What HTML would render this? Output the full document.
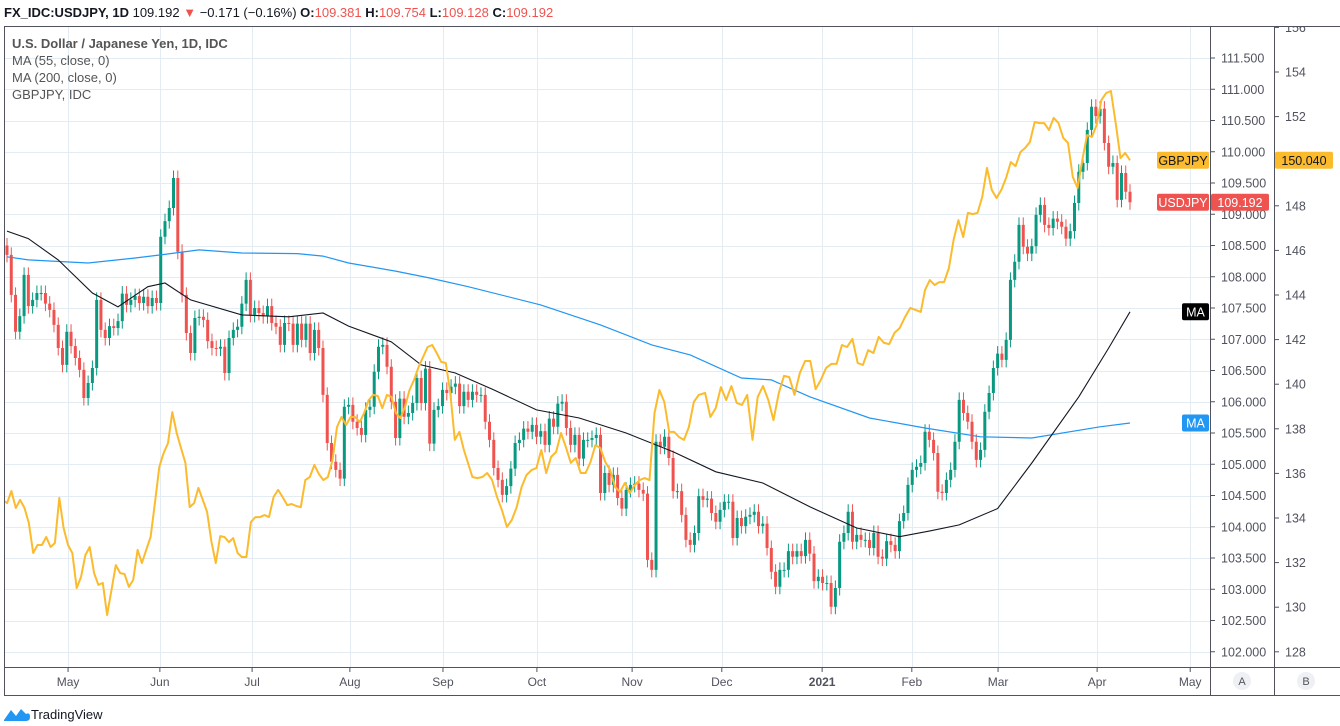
<!DOCTYPE html>
<html><head><meta charset="utf-8"><title>USDJPY chart</title>
<style>
html,body{margin:0;padding:0;background:#fff;width:1340px;height:726px;overflow:hidden}
svg{display:block}
text{font-family:"Liberation Sans",sans-serif}
</style></head>
<body>
<svg id="chart" width="1340" height="726" viewBox="0 0 1340 726" xmlns="http://www.w3.org/2000/svg">
  <text x="4" y="17" font-size="13" fill="#131722"><tspan font-weight="bold">FX_IDC:USDJPY, 1D</tspan> 109.192 <tspan fill="#ef5350">▼</tspan> −0.171 (−0.16%) <tspan font-weight="bold">O:</tspan><tspan fill="#ef5350">109.381</tspan> <tspan font-weight="bold">H:</tspan><tspan fill="#ef5350">109.754</tspan> <tspan font-weight="bold">L:</tspan><tspan fill="#ef5350">109.128</tspan> <tspan font-weight="bold">C:</tspan><tspan fill="#ef5350">109.192</tspan></text>
  <g id="grid"></g>
  <g id="marks"></g>
  <rect x="4.5" y="26.5" width="1340" height="669" fill="none" stroke="#50535e" stroke-width="1"/>
  <line x1="1210.5" y1="26" x2="1210.5" y2="696" stroke="#50535e"/>
  <line x1="1274.5" y1="26" x2="1274.5" y2="696" stroke="#50535e"/>
  <line x1="4" y1="667.5" x2="1340" y2="667.5" stroke="#50535e"/>
  <g id="axes"></g>
  <g font-size="13" fill="#555">
    <text x="12" y="48" font-weight="bold" fill="#555">U.S. Dollar / Japanese Yen, 1D, IDC</text>
    <text x="12" y="65">MA (55, close, 0)</text>
    <text x="12" y="82">MA (200, close, 0)</text>
    <text x="12" y="99">GBPJPY, IDC</text>
  </g>
  <g>
    <circle cx="1242" cy="681" r="9" fill="#eef0f5"/>
    <text x="1242" y="685" font-size="11" text-anchor="middle" fill="#555">A</text>
    <circle cx="1306" cy="681" r="9" fill="#eef0f5"/>
    <text x="1306" y="685" font-size="11" text-anchor="middle" fill="#555">B</text>
  </g>
  <g>
    <path d="M4 720 L11 710 L16 716 L21 709 L26 714 Q30 712 30 717 Q30 721 26 721 L4 721 Z" fill="#2196f3"/>
    <text x="31" y="719" font-size="13" fill="#131722">TradingView</text>
  </g>
</svg>
<script>
// ---- data ----
const closes = [108.35,107.71,107.12,107.37,108.03,107.53,107.63,107.74,107.74,107.57,107.47,107.23,106.86,106.59,107.12,106.89,106.70,106.51,106.06,106.30,106.54,107.63,107.15,107.02,107.21,107.18,107.29,107.73,107.55,107.63,107.69,107.58,107.68,107.53,107.66,107.58,108.64,108.89,109.10,109.58,108.40,107.71,107.10,106.78,107.34,107.36,107.31,106.97,106.86,106.85,106.88,106.46,107.02,107.15,
107.20,107.57,107.95,107.39,107.50,107.42,107.37,107.53,107.26,107.20,106.91,107.26,107.25,106.91,107.25,106.99,107.25,106.78,107.15,106.86,106.11,105.34,105.04,104.91,104.77,105.92,105.95,105.68,105.58,105.47,105.87,105.92,106.48,106.88,106.91,106.56,106.00,105.42,106.05,105.76,105.82,105.98,106.38,105.98,106.53,105.33,105.87,105.93,106.19,106.14,106.24,106.29,105.93,106.16,
106.03,106.16,106.11,106.11,105.68,105.39,104.94,104.75,104.51,104.65,104.93,105.34,105.39,105.57,105.52,105.63,105.44,105.53,105.31,105.73,105.60,105.97,106.00,105.58,105.31,105.47,105.09,105.39,105.39,105.42,105.47,104.54,104.86,104.67,104.83,104.46,104.29,104.59,104.67,104.69,104.59,104.53,103.47,103.31,105.36,105.28,105.44,105.10,104.57,104.57,104.19,103.79,103.71,103.90,104.49,104.43,
104.45,104.22,104.08,104.27,104.40,104.40,103.82,104.14,104.01,104.16,104.19,104.24,104.01,104.05,103.66,103.28,103.04,103.31,103.31,103.61,103.52,103.61,103.53,103.79,103.57,103.13,103.20,103.10,103.10,102.72,103.02,103.76,103.90,104.24,103.76,103.87,103.79,103.79,103.66,103.90,103.52,103.49,103.77,103.71,103.61,104.09,104.22,
104.67,104.91,104.96,105.02,105.52,105.39,105.18,104.56,104.54,104.75,104.91,105.36,106.03,105.82,105.68,105.36,105.07,105.23,105.84,106.14,106.54,106.77,106.67,106.99,107.95,108.24,108.83,108.48,108.37,108.49,108.99,109.15,108.83,108.78,108.93,108.88,108.80,108.61,108.73,109.18,109.68,109.82,110.35,110.72,110.57,110.69,110.14,109.76,109.82,109.23,109.66,109.36,109.192];
const firstOpen = 108.5;
const ma55Idx = [0,5,12,20,26,33,37,43,55,66,74,80,90,97,105,114,124,134,145,156,166,177,188,199,209,216,223,232,240,251,258,263];
const ma55Val = [108.73,108.61,108.27,107.74,107.52,107.84,107.90,107.63,107.39,107.36,107.42,107.21,106.96,106.59,106.46,106.19,105.87,105.74,105.50,105.20,104.88,104.70,104.32,103.98,103.84,103.93,104.03,104.29,105.02,106.08,106.86,107.44];
const ma200Idx = [0,5,19,30,36,45,55,68,74,80,91,99,108,125,139,151,160,172,179,188,202,215,228,240,256,263];
const ma200Val = [108.32,108.27,108.22,108.30,108.35,108.43,108.38,108.37,108.33,108.22,108.09,107.98,107.84,107.55,107.23,106.91,106.75,106.38,106.35,106.08,105.74,105.58,105.44,105.42,105.60,105.66];
const gbpjpy = [134.81,134.67,135.21,134.45,134.81,134.45,133.78,132.43,132.79,132.79,133.15,132.70,132.88,134.90,133.55,132.79,132.43,130.86,131.35,132.34,132.70,131.53,131.00,131.09,129.65,130.77,131.89,131.53,131.49,130.91,131.22,132.57,131.98,132.57,133.15,134.67,136.29,136.91,137.36,138.75,137.81,137.14,136.47,134.49,134.67,135.35,134.81,134.27,132.92,131.98,133.19,133.15,132.92,133.10,132.43,
132.25,132.25,133.82,134.04,134.04,134.13,134.04,134.94,135.26,134.94,134.58,134.63,134.54,134.49,135.70,135.84,136.38,135.97,135.70,135.84,136.60,138.08,138.53,138.17,138.53,138.53,138.30,138.71,139.29,139.52,139.47,138.93,139.52,139.43,138.71,138.48,138.98,139.74,140.19,140.77,141.22,141.67,141.76,141.40,141.00,140.95,139.61,137.50,137.86,137.05,
135.84,135.79,135.84,136.02,135.70,134.94,134.36,133.60,133.91,134.49,135.39,135.93,136.15,136.24,137.05,136.02,136.74,136.96,137.81,137.18,136.47,136.69,136.02,136.02,136.51,137.27,137.14,136.51,136.15,135.39,135.17,135.57,135.12,135.48,135.70,135.79,135.70,138.71,139.74,139.20,137.86,137.86,137.63,137.50,138.08,139.20,139.52,
139.61,138.53,138.93,139.87,139.29,139.92,139.16,139.07,139.52,137.50,139.43,139.92,139.29,138.39,139.61,140.37,140.32,139.52,140.50,141.04,141.04,139.78,140.19,140.73,140.91,140.91,141.76,141.67,142.03,140.95,140.86,141.53,141.40,142.12,141.85,141.80,142.30,142.52,143.01,143.42,143.33,143.24,
144.22,144.67,144.45,144.58,144.58,145.21,146.47,147.36,146.60,147.68,147.63,147.68,148.39,149.70,148.71,148.35,148.71,149.25,149.96,149.78,150.41,150.59,150.86,151.76,151.71,151.71,151.40,151.94,151.71,151.04,150.82,149.29,148.80,150.05,151.17,151.09,151.62,152.74,153.06,153.15,151.71,150.14,150.37,150.04];
// alignment anchors: position in gbpjpy array -> bar index (date alignment)
const gbpAnchorPos = [0,54,55,104,105,151,152,193,194,237];
const gbpAnchorBar = [-1,54,55,107,109,162,163.5,214,215,263];
const leftTicks = [102.0,102.5,103.0,103.5,104.0,104.5,105.0,105.5,106.0,106.5,107.0,107.5,108.0,108.5,109.0,109.5,110.0,110.5,111.0,111.5];
const rightTicks = [128,130,132,134,136,138,140,142,144,146,148,150,152,154,156];
const monthLabels = ["May","Jun","Jul","Aug","Sep","Oct","Nov","Dec","2021","Feb","Mar","Apr","May"];
const monthIdx = [14.3,35.8,57.4,80.3,102.1,124.1,146.4,167.4,190.9,211.9,232.1,255.3,277.1];
const lastUsd = 109.192, lastGbp = 150.040;

// ---- scales ----
const NS='http://www.w3.org/2000/svg';
const N = closes.length;
const xBar = i => 7 + i*(1130-7)/(N-1);
const yL = p => 58 + (111.5-p)*62.5;
const yR = v => 72 + (154-v)*22.3;
function gbpBar(j){for(let k=0;k<gbpAnchorPos.length-1;k++){const a=gbpAnchorPos[k],b=gbpAnchorPos[k+1];if(j>=a&&j<=b){return gbpAnchorBar[k]+(j-a)/(b-a||1)*(gbpAnchorBar[k+1]-gbpAnchorBar[k]);}}return gbpAnchorBar[gbpAnchorBar.length-1];}
function mk(tag, attrs, parent){const e=document.createElementNS(NS,tag);for(const k in attrs)e.setAttribute(k,attrs[k]);parent.appendChild(e);return e;}
const grid=document.getElementById('grid'), marks=document.getElementById('marks'), axes=document.getElementById('axes');

leftTicks.forEach(t=>{const y=Math.round(yL(t))+0.5;const l=mk('line',{x1:4,x2:1210,y1:y,y2:y,stroke:'#e4ecf3'},grid);

});
monthIdx.forEach(m=>{const x=Math.round(xBar(m))+0.5;const l=mk('line',{x1:x,x2:x,y1:26,y2:667,stroke:'#e4ecf3'},grid);

});

const defs=mk('defs',{},marks);const cp=mk('clipPath',{id:'plotclip'},defs);mk('rect',{x:4,y:26,width:1206,height:641},cp);
const plot=mk('g',{'clip-path':'url(#plotclip)'},marks);

for(let i=0;i<N;i++){
  const o=i?closes[i-1]:firstOpen, c=closes[i];
  const up=c>=o, col=up?'#089981':'#ef5350';
  const hi=Math.max(o,c)+0.12, lo=Math.min(o,c)-0.12;
  const x=xBar(i);
  const g=mk('g',{},plot);
  
  
  mk('line',{x1:x,x2:x,y1:yL(hi),y2:yL(lo),stroke:col,'stroke-width':1},g);
  const yt=yL(Math.max(o,c)), yb=yL(Math.min(o,c));
  mk('rect',{x:x-1.5,y:yt,width:3,height:Math.max(1,yb-yt),fill:col},g);
}
function linePath(xs, ys){return xs.map((x,k)=>(k?'L':'M')+x.toFixed(1)+' '+ys[k].toFixed(1)).join(' ');}
const p200=mk('path',{d:linePath(ma200Idx.map(xBar),ma200Val.map(yL)),fill:'none',stroke:'#2196f3','stroke-width':1.2},plot);


const p55=mk('path',{d:linePath(ma55Idx.map(xBar),ma55Val.map(yL)),fill:'none',stroke:'#131722','stroke-width':1.1},plot);


const gx=gbpjpy.map((v,j)=>xBar(gbpBar(j)));
const pg=mk('path',{d:linePath(gx,gbpjpy.map(yR)),fill:'none',stroke:'#fbbb2c','stroke-width':2,'stroke-linejoin':'round'},plot);



leftTicks.forEach(t=>{const y=yL(t);
  const tk=mk('line',{x1:1211,x2:1215,y1:y,y2:y,stroke:'#50535e'},axes);
  
  
  const tx=mk('text',{x:1221,y:y+4.5,'font-size':12.5,fill:'#50535e'},axes);tx.textContent=t.toFixed(3);
  
  });
const rclip=mk('clipPath',{id:'rclip'},defs);mk('rect',{x:1275,y:26,width:65,height:641},rclip);
const rg=mk('g',{'clip-path':'url(#rclip)'},axes);
rightTicks.forEach(t=>{const y=yR(t);
  const tk=mk('line',{x1:1275,x2:1279,y1:y,y2:y,stroke:'#50535e'},rg);
  
  
  const tx=mk('text',{x:1285,y:y+4.5,'font-size':12.5,fill:'#50535e'},rg);tx.textContent=String(t);
  
  });
monthLabels.forEach((m,k)=>{const x=xBar(monthIdx[k]);
  const tk=mk('line',{x1:x,x2:x,y1:668,y2:672,stroke:'#50535e'},axes);
  
  
  const tx=mk('text',{x:x,y:686,'font-size':12,fill:'#50535e','text-anchor':'middle'},axes);tx.textContent=m;
  if(m==='2021')tx.setAttribute('font-weight','bold');
  
  });

function tag(name,x,y,w,fill,txt,col){const g=mk('g',{},axes);
  
  
  mk('rect',{x:x,y:y-8.5,width:w,height:17,rx:2,fill:fill},g);
  const t=mk('text',{x:x+w/2,y:y+4.5,'font-size':12.5,fill:col,'text-anchor':'middle'},g);t.textContent=txt;}
const yg=yR(lastGbp), yu=yL(lastUsd);
tag('gbpjpy-label',1157,yg,52,'#fbbb2c','GBPJPY','#131722');
tag('gbpjpy-price-tag',1275,yg,58,'#fbbb2c',lastGbp.toFixed(3),'#131722');
tag('usdjpy-label',1157,yu,52,'#ef5350','USDJPY','#fff');
tag('usdjpy-price-tag',1211,yu,58,'#ef5350',lastUsd.toFixed(3),'#fff');
tag('ma55-label',1182,yL(ma55Val[ma55Val.length-1]),27,'#000','MA','#fff');
tag('ma200-label',1182,yL(ma200Val[ma200Val.length-1]),27,'#2196f3','MA','#fff');
</script>
</body></html>
